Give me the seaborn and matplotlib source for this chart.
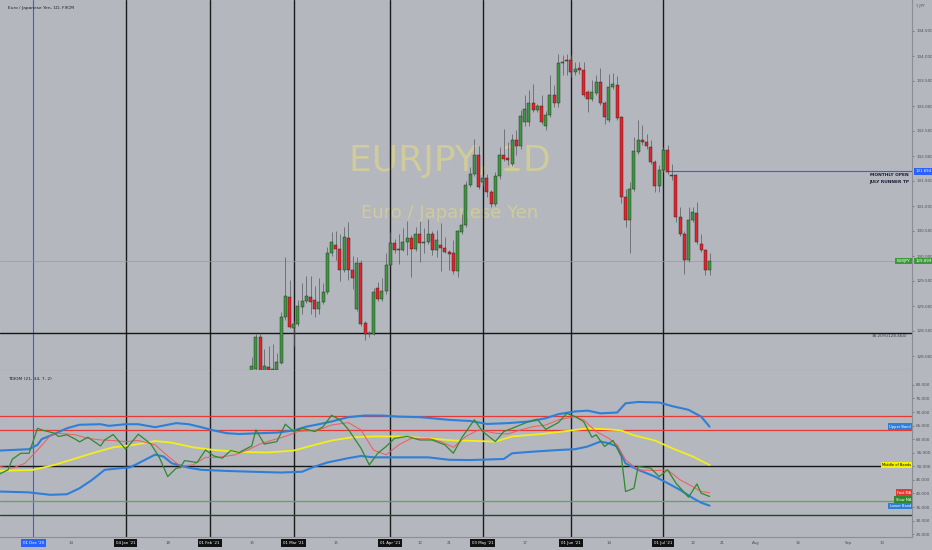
import numpy as np
import matplotlib
matplotlib.use("Agg")
import matplotlib.pyplot as plt
import matplotlib.transforms as mtrans
import seaborn as sns

# bar 0 = 01 Dec '20, one bar per FXCM trading day
candle_start = 52

opens = [127.50, 127.75, 128.39, 127.70, 127.77, 127.72, 127.72, 127.87, 128.77, 129.19,
         128.56, 128.64, 128.99, 129.10, 129.19, 129.12, 128.95, 129.09, 129.27, 130.05,
         130.22, 130.14, 129.72, 130.37, 129.73, 128.95, 129.87, 128.65, 128.44, 128.44,
         129.37, 129.15, 129.30, 129.82, 130.25, 130.13, 130.13, 130.29, 130.37, 130.15,
         130.45, 130.27, 130.29, 130.45, 130.13, 130.22, 130.17, 130.09, 130.05, 129.70,
         130.49, 130.62, 131.42, 131.65, 132.02, 131.49, 131.57, 131.29, 131.04, 131.60,
         132.02, 131.97, 131.84, 132.32, 132.20, 132.69, 132.69, 133.07, 132.92, 132.99,
         132.60, 132.82, 133.22, 133.07, 133.87, 133.92, 133.92, 133.69, 133.75, 133.72,
         133.29, 133.15, 133.27, 133.49, 133.07, 132.72, 133.39, 133.43, 132.77, 131.19,
         130.72, 131.35, 132.09, 132.32, 132.28, 132.19, 131.89, 131.40, 131.72, 132.13,
         131.62, 131.62, 130.79, 130.45, 129.93, 130.72, 130.87, 130.25, 130.12, 129.72]
highs = [127.99, 128.45, 128.47, 128.15, 128.20, 128.25, 128.05, 128.88, 129.99, 129.53,
         128.70, 129.13, 129.47, 129.60, 129.60, 129.40, 129.55, 129.47, 130.19, 130.49,
         130.51, 130.45, 130.59, 130.68, 130.00, 129.99, 129.93, 128.70, 128.50, 129.37,
         129.49, 129.55, 130.07, 130.49, 130.33, 130.45, 130.55, 130.71, 130.42, 130.59,
         130.71, 130.55, 130.75, 130.50, 130.52, 130.67, 130.39, 130.12, 130.32, 130.52,
         130.85, 131.50, 131.79, 132.35, 132.20, 131.63, 131.65, 131.32, 131.69, 132.19,
         132.55, 132.29, 132.45, 132.52, 132.92, 133.22, 133.33, 133.45, 133.05, 133.22,
         132.90, 133.62, 133.42, 134.05, 134.02, 134.05, 134.02, 133.89, 133.89, 133.89,
         133.32, 133.52, 133.62, 133.77, 133.10, 133.65, 133.67, 133.60, 132.80, 131.35,
         131.49, 132.39, 132.72, 132.62, 132.45, 132.32, 131.92, 131.82, 132.19, 132.22,
         131.85, 131.65, 130.99, 130.50, 130.99, 130.99, 131.09, 130.45, 130.15, 130.05]
lows = [127.45, 127.50, 127.60, 127.62, 127.62, 127.60, 127.65, 127.84, 128.72, 128.55,
        128.20, 128.60, 128.85, 129.05, 128.85, 128.79, 128.85, 129.04, 129.25, 130.00,
        129.92, 129.50, 129.68, 129.52, 129.33, 128.90, 128.60, 128.32, 128.38, 128.42,
        129.10, 129.10, 129.25, 129.80, 130.05, 129.85, 130.10, 130.02, 129.59, 130.10,
        129.89, 130.05, 130.25, 130.02, 129.99, 129.71, 130.05, 129.72, 129.65, 129.59,
        130.45, 130.58, 131.38, 131.60, 131.35, 131.40, 131.19, 130.99, 131.00, 131.55,
        131.90, 131.82, 131.80, 132.02, 132.15, 132.60, 132.60, 132.88, 132.88, 132.65,
        132.53, 132.78, 132.99, 132.99, 133.62, 133.62, 133.59, 133.62, 133.65, 133.18,
        132.89, 133.10, 133.22, 133.02, 132.65, 132.68, 133.35, 132.72, 131.06, 130.59,
        130.05, 131.30, 132.05, 132.22, 132.15, 131.85, 131.29, 131.29, 131.68, 131.65,
        131.52, 130.69, 130.40, 129.65, 129.88, 130.68, 130.25, 130.08, 129.62, 129.62]
closes = [127.80, 128.39, 127.70, 127.79, 127.71, 127.73, 127.87, 128.77, 129.19, 128.59,
          128.64, 128.99, 129.10, 129.19, 129.09, 128.95, 129.09, 129.27, 130.05, 130.29,
          130.14, 129.72, 130.37, 129.73, 129.57, 129.87, 128.65, 128.44, 128.45, 129.29,
          129.15, 129.30, 129.82, 130.25, 130.13, 130.14, 130.29, 130.37, 130.15, 130.45,
          130.27, 130.29, 130.45, 130.13, 130.31, 130.17, 130.09, 130.04, 129.70, 130.49,
          130.62, 131.42, 131.65, 132.02, 131.39, 131.55, 131.29, 131.04, 131.60, 132.02,
          131.95, 131.93, 132.32, 132.20, 132.80, 132.95, 133.07, 132.92, 132.99, 132.69,
          132.82, 133.22, 133.07, 133.87, 133.87, 133.90, 133.69, 133.74, 133.72, 133.22,
          133.15, 133.29, 133.49, 133.07, 132.79, 133.39, 133.43, 132.77, 131.19, 130.72,
          131.35, 132.09, 132.32, 132.28, 132.21, 131.89, 131.40, 131.72, 132.13, 131.69,
          131.60, 130.79, 130.45, 129.93, 130.72, 130.87, 130.29, 130.12, 129.72, 129.90]

# TDIGM indicator (21, 34, 7, 2)
upper_x = [-8, -1, 1, 2, 5, 8, 11, 16, 18, 22, 25, 29, 32, 34, 37, 40, 43, 46, 49, 54, 58,
           62, 65, 68, 71, 75, 79, 83, 87, 92, 95, 99, 104, 108, 113, 118, 122, 125, 129,
           132, 135, 139, 141, 144, 149, 152, 156, 159, 161]
upper_y = [55.8, 56.3, 57.9, 60.0, 61.9, 64.0, 65.3, 65.5, 64.9, 65.5, 65.5, 64.4, 65.3, 65.9,
           65.5, 64.4, 63.2, 62.2, 61.9, 62.2, 62.4, 63.2, 64.6, 65.5, 66.5, 68.1, 68.7, 68.7,
           68.3, 68.1, 67.7, 67.1, 66.7, 65.6, 65.9, 66.5, 67.7, 69.2, 70.2, 70.5, 69.5, 69.8,
           73.2, 73.7, 73.5, 72.2, 70.8, 68.3, 64.6]
lower_x = [-8, -1, 4, 8, 11, 14, 17, 20, 23, 25, 29, 31, 33, 37, 40, 46, 52, 59, 64, 67, 70,
           75, 78, 81, 87, 94, 99, 104, 112, 114, 119, 125, 129, 132, 135, 137, 139, 141, 144,
           148, 151, 154, 157, 159, 161]
lower_y = [40.7, 40.4, 39.5, 39.7, 41.9, 45.0, 48.7, 49.2, 49.6, 51.1, 54.3, 53.6, 51.1, 49.5,
           48.7, 48.3, 48.0, 47.7, 48.0, 49.9, 51.4, 53.0, 53.8, 53.3, 53.3, 53.3, 52.4, 52.3,
           52.7, 54.8, 55.4, 56.0, 56.3, 57.3, 59.1, 58.5, 57.3, 51.1, 48.7, 46.2, 43.8, 41.3,
           38.3, 36.6, 35.5]
middle_x = [-8, 0, 5, 9, 14, 19, 24, 29, 33, 38, 43, 49, 56, 62, 67, 71, 76, 81, 87, 94, 100,
            104, 110, 114, 121, 127, 132, 137, 140, 143, 148, 152, 157, 161]
middle_y = [48.3, 48.7, 50.5, 52.4, 54.8, 57.0, 57.9, 59.3, 58.7, 57.0, 56.0, 55.3, 55.1, 55.8,
            57.9, 59.5, 60.7, 61.0, 61.0, 60.3, 59.5, 59.4, 59.1, 61.0, 61.9, 63.0, 64.0, 63.6,
            63.2, 61.4, 59.5, 56.7, 53.6, 50.5]
slow_x = [-8, -6, -5, -3, -1, 1, 2, 5, 6, 8, 10, 11, 13, 16, 17, 19, 22, 25, 28, 30, 32, 34,
          35, 36, 39, 41, 43, 45, 47, 49, 52, 53, 55, 58, 60, 62, 64, 67, 69, 71, 73, 75, 78,
          80, 82, 84, 86, 89, 92, 95, 98, 100, 102, 105, 107, 110, 112, 114, 118, 120, 122,
          125, 127, 129, 131, 133, 134, 136, 138, 140, 141, 143, 144, 147, 149, 151, 153,
          156, 158, 159, 161]
slow_y = [47.2, 48.7, 52.6, 54.8, 54.8, 64.0, 63.4, 62.2, 61.0, 61.6, 60.0, 59.0, 60.7, 57.5,
          59.7, 61.7, 56.3, 61.8, 58.2, 53.3, 46.2, 49.3, 49.5, 52.1, 51.4, 56.0, 53.8, 53.0,
          55.8, 55.1, 57.5, 63.4, 58.2, 59.1, 65.5, 62.8, 64.0, 62.8, 64.6, 68.8, 67.1, 63.6,
          56.7, 50.5, 54.8, 57.3, 60.3, 61.0, 59.7, 59.7, 57.9, 54.8, 60.5, 67.1, 62.8, 59.1,
          62.8, 64.0, 66.5, 67.3, 63.6, 66.1, 69.5, 68.3, 66.5, 60.7, 61.6, 57.3, 59.5, 53.6,
          40.7, 41.9, 49.9, 49.3, 46.2, 48.7, 43.8, 38.6, 43.5, 40.1, 38.9]
fast_x = [-8, -5, -2, 1, 4, 6, 10, 13, 16, 19, 22, 25, 29, 32, 35, 38, 41, 44, 48, 51, 54, 57,
          60, 63, 68, 71, 75, 78, 81, 84, 87, 90, 94, 97, 100, 103, 106, 110, 113, 116, 119,
          122, 125, 129, 131, 134, 137, 139, 141, 144, 148, 151, 154, 157, 159, 161]
fast_y = [49.9, 49.3, 51.1, 56.0, 61.2, 62.2, 61.6, 60.3, 59.7, 59.5, 59.1, 59.5, 57.9, 53.8,
          50.1, 50.5, 53.3, 53.3, 54.2, 56.0, 58.2, 59.7, 61.0, 62.8, 63.4, 65.2, 66.1, 63.4,
          56.0, 54.2, 57.9, 60.3, 60.3, 59.1, 57.0, 61.0, 63.4, 62.2, 61.9, 63.4, 64.6, 65.2,
          67.1, 68.3, 67.1, 62.8, 60.3, 57.9, 52.4, 48.7, 48.4, 48.7, 45.0, 42.5, 40.7, 40.3]

level_red = [68.4, 63.2]
level_mid = 50.0
level_green = 37.2
level_dark = 32.2

monthly_open = 131.694
monthly_open_from = 151
fib_level = 128.464
last_price = 129.899

month_bars = [22, 42, 62, 85, 107, 128, 150]
month_labels = ["04 Jan '21", "01 Feb '21", "01 Mar '21", "01 Apr '21", "03 May '21",
                "01 Jun '21", "01 Jul '21"]
dec_bar = 0
dec_label = "01 Dec '20"
minor_bars = [9, 32, 52, 72, 92, 99, 117, 137, 157, 164, 172, 182, 194, 202]
minor_labels = ["14", "18", "15", "15", "12", "21", "17", "14", "12", "21", "Aug", "16",
                "Sep", "13"]

price_ticks = [128.0, 128.5, 129.0, 129.5, 130.0, 130.5, 131.0, 131.5, 132.0, 132.5, 133.0,
               133.5, 134.0, 134.5]
ind_ticks = [25, 30, 35, 40, 45, 50, 55, 60, 65, 70, 75, 80]

sns.set_theme(style="white")
plt.rcParams['font.family'] = ['DejaVu Sans']

BG = '#b4b7be'
GREEN = '#3f9640'
RED = '#e6232a'
BLUE = '#2f7fd8'

fig = plt.figure(figsize=(9.32, 5.5), dpi=100, facecolor=BG)
ax_p = fig.add_axes([0, 180 / 550, 912 / 932, 370 / 550])
ax_i = fig.add_axes([0, 13 / 550, 912 / 932, 167 / 550])

xmin, xmax = -7.93, 209.2
for ax in (ax_p, ax_i):
    ax.set_facecolor(BG)
    ax.set_xlim(xmin, xmax)
    ax.set_xticks([])
    for s in ('top', 'left'):
        ax.spines[s].set_visible(False)
    ax.spines['right'].set_color('#8a8d93')
    ax.spines['right'].set_linewidth(0.8)
    ax.spines['bottom'].set_color('#8a8d93')
    ax.spines['bottom'].set_linewidth(0.8)
    ax.yaxis.tick_right()
    ax.tick_params(axis='y', labelsize=3, colors='#4c4f55', length=1.5, width=0.4, pad=1.5)

ax_p.set_ylim(127.72, 135.12)
ax_p.set_yticks(price_ticks)
ax_p.set_yticklabels([f"{t:.3f}" for t in price_ticks])
ax_i.set_ylim(23.96, 85.47)
ax_i.set_yticks(ind_ticks)
ax_i.set_yticklabels([f"{t:.3f}" for t in ind_ticks])

# watermark
ax_p.text(0.493, 0.565, "EURJPY, 1D", transform=ax_p.transAxes, fontsize=26,
          color='#cfcb9a', ha='center', va='center', zorder=0)
ax_p.text(0.493, 0.425, "Euro / Japanese Yen", transform=ax_p.transAxes, fontsize=13,
          color='#cfcb9a', ha='center', va='center', zorder=0)

# vertical month lines in both panes
for ax in (ax_p, ax_i):
    ax.axvline(dec_bar, color='#2962ff', lw=0.8, zorder=1)
    for b in month_bars:
        ax.axvline(b, color='#1b1b1b', lw=1.0, zorder=1)

# price pane lines
ax_p.axhline(last_price, color='#989ba1', lw=0.5, zorder=1)
ax_p.axhline(fib_level, color='#151515', lw=1.0, zorder=1)
ax_p.hlines(monthly_open, monthly_open_from, xmax, color='#2962ff', lw=0.8, zorder=1)

# candles
o = np.array(opens)
h = np.array(highs)
l = np.array(lows)
c = np.array(closes)
bars = np.arange(candle_start, candle_start + len(o))
up = c >= o
ax_p.vlines(bars, l, h, color='#55585c', lw=0.5, zorder=2)
body = np.maximum(np.abs(c - o), 0.015)
ax_p.bar(bars, body, bottom=np.minimum(o, c), width=0.72,
         color=np.where(up, GREEN, RED), edgecolor='#222222', linewidth=0.3, zorder=3)

# indicator lines
for lv in level_red:
    ax_i.axhline(lv, color='#e53935', lw=0.9, zorder=1)
ax_i.axhline(level_mid, color='#151515', lw=1.0, zorder=1)
ax_i.axhline(level_green, color='#4caf50', lw=0.9, zorder=1)
ax_i.axhline(level_dark, color='#244a24', lw=1.0, zorder=1)

sns.lineplot(x=upper_x, y=upper_y, ax=ax_i, color=BLUE, lw=1.5, zorder=3)
sns.lineplot(x=lower_x, y=lower_y, ax=ax_i, color=BLUE, lw=1.5, zorder=3)
sns.lineplot(x=middle_x, y=middle_y, ax=ax_i, color='#f2ee1c', lw=1.3, zorder=3)
sns.lineplot(x=fast_x, y=fast_y, ax=ax_i, color='#ef5b5b', lw=0.7, zorder=4)
sns.lineplot(x=slow_x, y=slow_y, ax=ax_i, color='#2e8a2e', lw=0.9, zorder=5)
ax_i.set_xlabel('')
ax_i.set_ylabel('')
ax_i.set_xticks([])

# series labels on the right edge
tr_i = mtrans.blended_transform_factory(ax_i.transAxes, ax_i.transData)
fast_pos = fast_y[-1]
slow_pos = min(slow_y[-1], fast_pos - 2.6)
lower_pos = min(lower_y[-1], slow_pos - 2.4)
for txt, yv, fc, tc in [("Upper Band", upper_y[-1], BLUE, 'white'),
                        ("Middle of Bands", middle_y[-1], '#f5f000', 'black'),
                        ("Fast MA", fast_pos, '#e53935', 'white'),
                        ("Slow MA", slow_pos, '#2e8a2e', 'white'),
                        ("Lower Band", lower_pos, BLUE, 'white')]:
    ax_i.text(0.999, yv, txt, transform=tr_i, ha='right', va='center', fontsize=2.6,
              color=tc, zorder=10,
              bbox=dict(boxstyle='square,pad=0.35', fc=fc, ec='none'))

# price labels
tr_p = mtrans.blended_transform_factory(ax_p.transAxes, ax_p.transData)
ax_p.text(1.004, monthly_open, f"{monthly_open:.3f}", transform=tr_p, ha='left', va='center',
          fontsize=2.8, color='white', clip_on=False, zorder=10,
          bbox=dict(boxstyle='square,pad=0.35', fc='#2962ff', ec='none'))
ax_p.text(1.004, last_price, f"{last_price:.3f}", transform=tr_p, ha='left', va='center',
          fontsize=2.8, color='white', clip_on=False, zorder=10,
          bbox=dict(boxstyle='square,pad=0.35', fc='#3a9a3a', ec='none'))
ax_p.text(0.998, last_price, "EURJPY", transform=tr_p, ha='right', va='center',
          fontsize=2.8, color='white', zorder=10,
          bbox=dict(boxstyle='square,pad=0.35', fc='#3a9a3a', ec='none'))
ax_p.text(0.9965, 131.62, "MONTHLY OPEN", transform=tr_p, ha='right', va='center',
          fontsize=3.2, color='#1c1c3a', fontweight='bold', zorder=10)
ax_p.text(0.9965, 131.49, "JULY RUNNER TP", transform=tr_p, ha='right', va='center',
          fontsize=3.2, color='#1c1c3a', fontweight='bold', zorder=10)
ax_p.text(0.995, 128.40, f"38.20%({fib_level:.3f})", transform=tr_p, ha='right',
          va='center', fontsize=3.0, color='#3a3a44', zorder=10)

# titles
fig.text(0.009, 1 - 8 / 550, "Euro / Japanese Yen, 1D, FXCM", fontsize=3.2, color='#1e1e1e',
         ha='left', va='center')
fig.text(0.009, 1 - 379 / 550, "TDIGM (21, 34, 7, 2)", fontsize=3.2, color='#1e1e1e',
         ha='left', va='center')
fig.text(0.987, 1 - 6 / 550, "1 JPY", fontsize=2.6, color='#4c4f55', ha='center', va='center')

# time axis labels
tr_t = mtrans.blended_transform_factory(ax_i.transData, ax_i.transAxes)
for b, txt in zip(minor_bars, minor_labels):
    ax_i.text(b, -0.036, txt, transform=tr_t, ha='center', va='center', fontsize=2.8,
              color='#4c4f55', clip_on=False)
for b, txt in zip(month_bars, month_labels):
    ax_i.text(b, -0.036, txt, transform=tr_t, ha='center', va='center', fontsize=2.8,
              color='white', clip_on=False, zorder=10,
              bbox=dict(boxstyle='square,pad=0.45', fc='#111111', ec='none'))
ax_i.text(dec_bar, -0.036, dec_label, transform=tr_t, ha='center', va='center', fontsize=2.8,
          color='white', clip_on=False, zorder=10,
          bbox=dict(boxstyle='square,pad=0.45', fc='#2962ff', ec='none'))

fig.savefig("out.png", dpi=100, facecolor=BG)
